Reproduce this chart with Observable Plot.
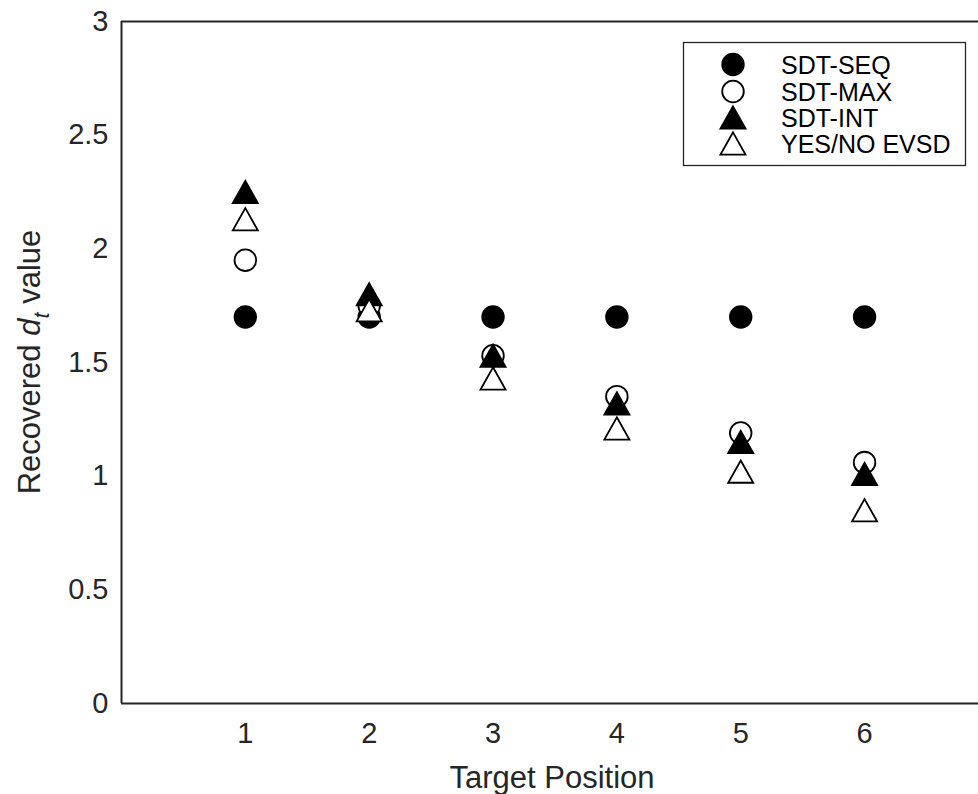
<!DOCTYPE html>
<html>
<head>
<meta charset="utf-8">
<script src="https://cdn.jsdelivr.net/npm/d3@7"></script>
<script src="https://cdn.jsdelivr.net/npm/@observablehq/plot@0.6"></script>
<style>
  body { margin: 0; background: #fff; }
  #chart svg { display: block; }
</style>
</head>
<body>
<div id="chart"></div>
<script>
// Target positions along the x axis
const positions = [1, 2, 3, 4, 5, 6];

// Recovered d_t value per target position, one array per model
const sdtSeq = [1.70, 1.70, 1.70, 1.70, 1.70, 1.70];
const sdtMax = [1.95, 1.75, 1.53, 1.35, 1.19, 1.06];
const sdtInt = [2.25, 1.80, 1.53, 1.32, 1.15, 1.01];
const yesNo  = [2.13, 1.73, 1.43, 1.21, 1.02, 0.85];

const seriesNames = ["SDT-SEQ", "SDT-MAX", "SDT-INT", "YES/NO EVSD"];
const yTicks = [0, 0.5, 1, 1.5, 2, 2.5, 3];
const xTicks = positions;

// Upward triangle centred on its bounding box
const triangleUp = {
  draw(context, size) {
    const r = Math.sqrt(size / Math.PI);
    const w = r * 1.16, h = r * 1.03;
    context.moveTo(0, -h);
    context.lineTo(w, h);
    context.lineTo(-w, h);
    context.closePath();
  }
};

const styles = [
  { values: sdtSeq, symbol: "circle",   fill: "black" },
  { values: sdtMax, symbol: "circle",   fill: "white" },
  { values: sdtInt, symbol: triangleUp, fill: "black" },
  { values: yesNo,  symbol: triangleUp, fill: "white" }
];

const R = 10.8, SW = 1.8;
const axisColor = "#262626";
const font = "'Liberation Sans', Arial, Helvetica, sans-serif";

const plot = Plot.plot({
  width: 978,
  height: 794,
  marginLeft: 121,
  marginRight: 0,
  marginTop: 21,
  marginBottom: 91,
  style: { fontFamily: font, fontSize: "29px", color: axisColor, background: "white" },
  x: { domain: [0, 6.92] },
  y: { domain: [0, 3] },
  marks: [
    Plot.ruleX([0], { stroke: axisColor, strokeWidth: 2 }),
    Plot.ruleY([0, 3], { stroke: axisColor, strokeWidth: 2 }),
    Plot.axisX({ ticks: xTicks, tickSize: 0, tickPadding: 19, tickFormat: d => String(d),
                 label: null, fontSize: 29 }),
    Plot.axisY({ ticks: yTicks, tickSize: 0, tickPadding: 13, tickFormat: d => String(d),
                 label: null, fontSize: 29 }),
    ...styles.map(s => Plot.dot(positions, {
      x: d => d,
      y: (d, i) => s.values[i],
      r: R,
      symbol: s.symbol,
      fill: s.fill,
      stroke: "black",
      strokeWidth: SW
    }))
  ]
});

document.getElementById("chart").appendChild(plot);

const svg = d3.select(plot);

// X-axis title
svg.append("text")
  .attr("x", 552).attr("y", 788)
  .attr("text-anchor", "middle")
  .attr("font-family", font)
  .attr("font-size", 31)
  .attr("fill", axisColor)
  .text("Target Position");

// Y-axis title with italic d and subscript t
const yTitle = svg.append("text")
  .attr("transform", "translate(40,362) rotate(-90)")
  .attr("text-anchor", "middle")
  .attr("font-family", font)
  .attr("font-size", 31)
  .attr("fill", axisColor);
yTitle.append("tspan").text("Recovered ");
yTitle.append("tspan").attr("font-style", "italic").text("d");
yTitle.append("tspan").attr("font-style", "italic").attr("font-size", 22).attr("dy", 9).text("t");
yTitle.append("tspan").attr("dy", -9).text(" value");

// Legend box
const legend = svg.append("g").attr("font-family", font).attr("text-anchor", "start");
legend.append("rect")
  .attr("x", 683.5).attr("y", 42.5)
  .attr("width", 282).attr("height", 123)
  .attr("fill", "white").attr("stroke", axisColor).attr("stroke-width", 1.3);

const rowY = [64.5, 91.5, 117.5, 143.5];
seriesNames.forEach((name, i) => {
  const s = styles[i];
  const sym = s.symbol === "circle" ? d3.symbolCircle : s.symbol;
  const p = d3.path();
  sym.draw(p, R * R * Math.PI);
  legend.append("path")
    .attr("transform", `translate(733,${rowY[i]})`)
    .attr("d", p.toString())
    .attr("fill", s.fill)
    .attr("stroke", "black")
    .attr("stroke-width", SW);
  legend.append("text")
    .attr("x", 781)
    .attr("y", rowY[i] + 9)
    .attr("font-size", 25)
    .attr("fill", "black")
    .text(name);
});
</script>
</body>
</html>
